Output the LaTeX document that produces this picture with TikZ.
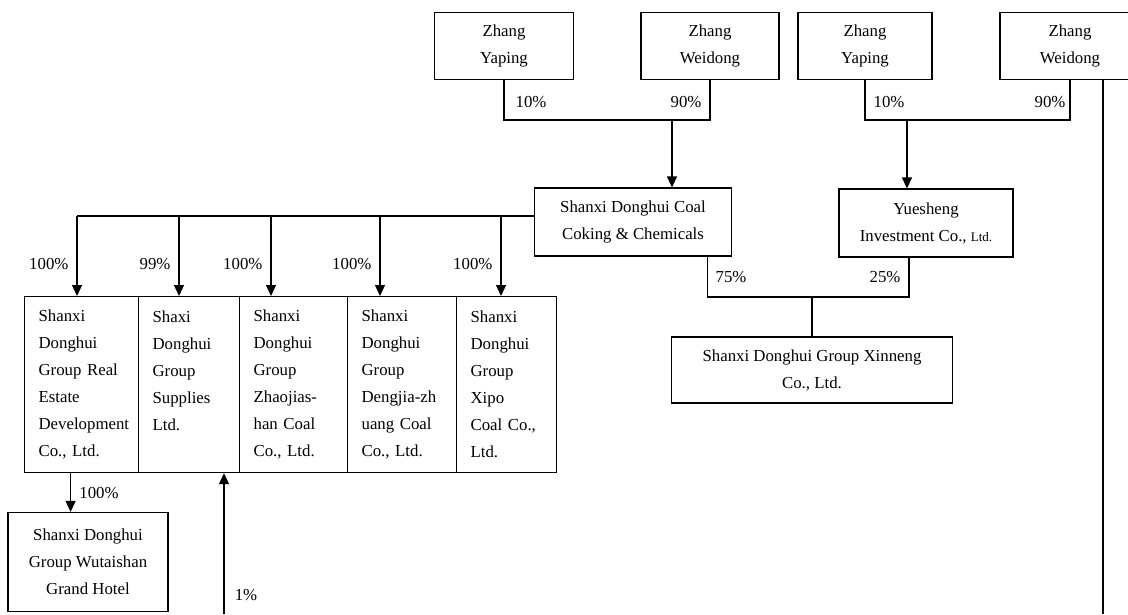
\documentclass[tikz,border=0pt]{standalone}
\usepackage{fontspec}
\setmainfont{Liberation Serif}
\usetikzlibrary{arrows.meta}

\begin{document}
\begin{tikzpicture}[
		x=1pt, y=-1pt,
		line width=1.2pt,
		every node/.style={font=\fontsize{16.8}{27}\selectfont, inner sep=0pt},
		box/.style={draw, align=center, minimum height=67pt},
		cell/.style={draw, anchor=north west, minimum height=176pt, align=left, inner xsep=14pt,
			execute at begin node={\hyphenpenalty=10000 \exhyphenpenalty=10000}},
		arr/.style={-{Triangle[length=11pt, width=10pt]}}
	]
  \useasboundingbox (0,0) rectangle (1128,614);
  % shareholders
  \node (zy_1) [box, minimum width=139pt] at (504,46) {Zhang\\Yaping};
  \node (zw_1) [box, minimum width=138pt] at (710,46) {Zhang\\Weidong};
  \node (zy_2) [box, minimum width=134pt] at (865,46) {Zhang\\Yaping};
  \node (zw_2) [box, minimum width=140pt] at (1070,46) {Zhang\\Weidong};
  \node (coke) [box, minimum width=197pt, minimum height=68pt] at (633,222) {Shanxi Donghui Coal\\Coking \& Chemicals};
  \node (yue) [box, minimum width=174pt, minimum height=68pt] at (926,223) {Yuesheng\\Investment Co., {\fontsize{13}{27}\selectfont Ltd.}};
  \node (xin) [box, minimum width=281pt, minimum height=66pt] at (812,370) {Shanxi Donghui Group Xinneng\\Co., Ltd.};
  \node (hotel) [box, minimum width=160pt, minimum height=99pt] at (88,562) {Shanxi Donghui\\Group Wutaishan\\Grand Hotel};
  % subsidiaries
  \node (re) [cell, text width=86pt] at (24,296) {Shanxi\\Donghui\\Group Real\\Estate\\Development\\Co., Ltd.};
  \node (sup) [cell, text width=73pt] at (138,296) {Shaxi\\Donghui\\Group\\Supplies\\Ltd.\\\mbox{}};
  \node (zjs) [cell, text width=80pt] at (239,296) {Shanxi\\Donghui\\Group\\Zhaojias-\\han Coal\\Co., Ltd.};
  \node (djz) [cell, text width=81pt] at (347,296) {Shanxi\\Donghui\\Group\\Dengjia-zh\\uang Coal\\Co., Ltd.};
  \node (xipo) [cell, text width=72pt] at (456,296) {Shanxi\\Donghui\\Group\\Xipo\\Coal Co.,\\Ltd.};
  % holdings
  \coordinate (j_1) at (672,120);
  \coordinate (j_2) at (907,120);
  \coordinate (j_3) at (812,297);
  \coordinate (b_1) at (224,614);
  \coordinate (b_2) at (1103,614);
  \draw (zy_1.south) |- (j_1) -| (zw_1.south);
  \draw [arr] (j_1) -- (j_1 |- coke.north);
  \draw (zy_2.south) |- (j_2) -| (zw_2.south);
  \draw [arr] (j_2) -- (j_2 |- yue.north);
  \draw (b_2 |- zw_2.south) -- (b_2);
  \draw ([xshift=-25pt]coke.south east) |- (j_3) -| ([xshift=-17pt]yue.south);
  \draw (j_3) -- (xin.north);
  \foreach \x/\n/\p in {77/re/100, 179/sup/99, 271/zjs/100, 380/djz/100, 501/xipo/100} {
    \coordinate (t_\n) at (\x,216);
    \draw [arr] (t_\n) -- (t_\n |- \n.north) node [pos=0.6, left=8pt] {\p\%};
  }
  \draw (t_re) -- (t_re -| coke.west);
  \draw [arr] ([xshift=-11pt]re.south) -- ([xshift=-11pt]re.south |- hotel.north);
  \draw [arr] (b_1) -- (b_1 |- sup.south);
  % percentages
  \node (p_1) at (531,102) {10\%};
  \node (p_2) at (686,102) {90\%};
  \node (p_3) at (889,102) {10\%};
  \node (p_4) at (1050,102) {90\%};
  \node (p_5) at (731,277) {75\%};
  \node (p_6) at (885,277) {25\%};
  \node (p_7) at (99,493) {100\%};
  \node (p_8) at (246,595) {1\%};
\end{tikzpicture}
\end{document}
